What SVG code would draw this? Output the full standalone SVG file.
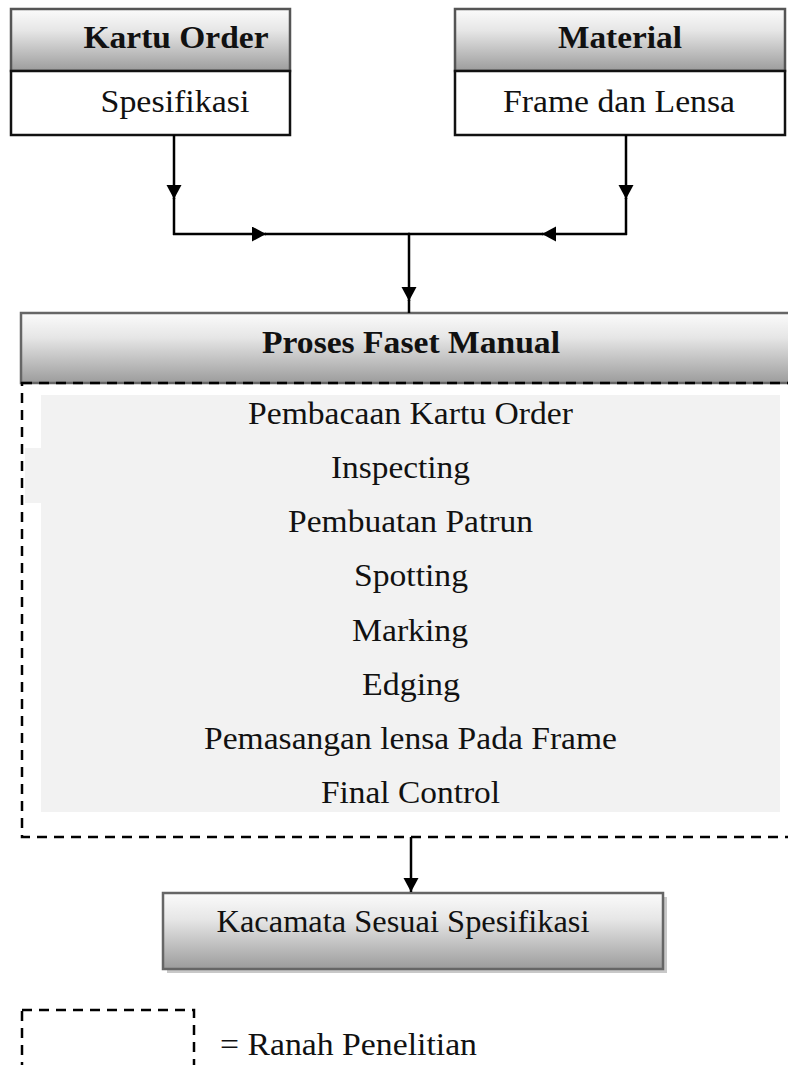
<svg xmlns="http://www.w3.org/2000/svg" width="788" height="1065" viewBox="0 0 788 1065">
<defs>
<linearGradient id="hdr" x1="0" y1="0" x2="0" y2="1">
<stop offset="0" stop-color="#fbfbfb"/>
<stop offset="0.35" stop-color="#e6e6e6"/>
<stop offset="1" stop-color="#9c9c9c"/>
</linearGradient>
<marker id="ah" markerUnits="userSpaceOnUse" markerWidth="18" markerHeight="18" refX="14" refY="7.5" orient="auto">
<path d="M0,0 L14,7.5 L0,15 Z" fill="#000"/>
</marker>
</defs>
<style>
text{font-family:'Liberation Serif','Times New Roman',Times,serif}
.t{font-size:31px;fill:#111;text-anchor:middle}
.b{font-weight:bold}
.box{fill:#fff;stroke:#111;stroke-width:2.5}
.hd{fill:url(#hdr);stroke:#555;stroke-width:2.5}
.ln{fill:none;stroke:#000;stroke-width:2.5}
.dash{fill:none;stroke:#000;stroke-width:2.5;stroke-dasharray:10 7}
</style>
<rect width="788" height="1065" fill="#fff"/>

<g id="kartu-order">
<rect class="hd" x="11" y="9" width="279" height="62"/>
<rect class="box" x="11" y="71" width="279" height="64"/>
<text class="t b" x="176" y="48" font-family="Liberation Serif" textLength="185" lengthAdjust="spacingAndGlyphs">Kartu Order</text>
<text class="t" x="175" y="112" font-family="Liberation Serif" textLength="149" lengthAdjust="spacingAndGlyphs">Spesifikasi</text>
</g>

<g id="material">
<rect class="hd" x="455" y="9" width="330" height="62"/>
<rect class="box" x="455" y="71" width="330" height="64"/>
<text class="t b" x="620" y="48" textLength="124" lengthAdjust="spacingAndGlyphs">Material</text>
<text class="t" x="619" y="112" textLength="232" lengthAdjust="spacingAndGlyphs">Frame dan Lensa</text>
</g>

<g id="proses-faset-manual">
<rect x="41" y="395" width="739" height="417" fill="#f2f2f2"/>
<rect x="25" y="448" width="20" height="55" fill="#f2f2f2"/>
<rect x="21" y="313" width="780" height="70" fill="url(#hdr)" stroke="#666" stroke-width="2.5"/>
<rect class="dash" x="22" y="383" width="780" height="454"/>
<text class="t b" x="411" y="353" textLength="298" lengthAdjust="spacingAndGlyphs">Proses Faset Manual</text>
<text class="t" x="410.5" y="424" textLength="325" lengthAdjust="spacingAndGlyphs">Pembacaan Kartu Order</text>
<text class="t" x="400.5" y="478" textLength="139" lengthAdjust="spacingAndGlyphs">Inspecting</text>
<text class="t" x="410.5" y="532" textLength="245" lengthAdjust="spacingAndGlyphs">Pembuatan Patrun</text>
<text class="t" x="411" y="586" textLength="114" lengthAdjust="spacingAndGlyphs">Spotting</text>
<text class="t" x="410" y="641" textLength="116" lengthAdjust="spacingAndGlyphs">Marking</text>
<text class="t" x="411" y="695" textLength="98" lengthAdjust="spacingAndGlyphs">Edging</text>
<text class="t" x="410.5" y="749" textLength="413" lengthAdjust="spacingAndGlyphs">Pemasangan lensa Pada Frame</text>
<text class="t" x="410.5" y="803" textLength="179" lengthAdjust="spacingAndGlyphs">Final Control</text>
</g>

<g id="kacamata">
<rect x="167" y="897" width="500" height="76" fill="#c8c8c8"/>
<rect x="163" y="893" width="500" height="76" fill="url(#hdr)" stroke="#666" stroke-width="2.5"/>
<text class="t" x="403" y="932" textLength="373" lengthAdjust="spacingAndGlyphs">Kacamata Sesuai Spesifikasi</text>
</g>

<g id="legend">
<rect class="dash" x="22" y="1010" width="172" height="80"/>
<text class="t" x="220" y="1055" style="text-anchor:start" textLength="257" lengthAdjust="spacingAndGlyphs">= Ranah Penelitian</text>
</g>

<g id="connectors">
<path class="ln" d="M174,135 V199" marker-end="url(#ah)"/>
<path class="ln" d="M174,198 V235"/>
<path class="ln" d="M626,135 V199" marker-end="url(#ah)"/>
<path class="ln" d="M626,198 V235"/>
<path class="ln" d="M173,234 H266" marker-end="url(#ah)"/>
<path class="ln" d="M265,234 H410"/>
<path class="ln" d="M627,234 H542" marker-end="url(#ah)"/>
<path class="ln" d="M543,234 H408"/>
<path class="ln" d="M409,234 V301" marker-end="url(#ah)"/>
<path class="ln" d="M409,300 V313"/>
<path class="ln" d="M411,837 V892" marker-end="url(#ah)"/>
</g>
</svg>
